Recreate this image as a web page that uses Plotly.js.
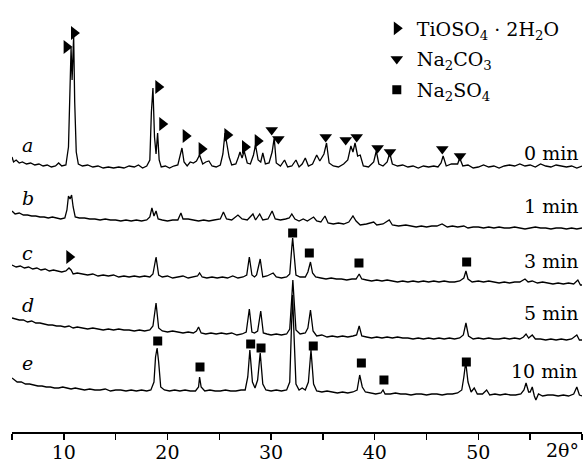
<!DOCTYPE html>
<html>
<head>
<meta charset="utf-8">
<script src="https://cdn.plot.ly/plotly-3.0.1.min.js"></script>
<style>html,body{margin:0;padding:0;background:#fff;}#chart{width:584px;height:462px;}</style>
</head>
<body>
<div id="chart"></div>
<script>
// XRD patterns (2θ in degrees, intensity with vertical stacking offset, arbitrary units)
const pattern_a = [[5,275],[5.15,270],[5.4,272],[5.7,269],[6,270],[6.4,268],[6.8,269],[7.2,267],[7.6,268],[8,266],[8.4,267],[8.8,265],[9.2,266],[9.5,269],[9.8,266],[10.2,267],[10.45,285],[10.6,350],[10.7,384],[10.8,352],[10.95,396],[11.05,330],[11.2,280],[11.4,268],[11.8,266],[12.3,267],[12.8,265],[13.3,266],[13.8,264],[14.3,265],[14.8,264],[15.3,265],[15.8,264],[16.3,266],[16.8,265],[17.2,267],[17.6,264],[18.0,266],[18.3,272],[18.45,320],[18.6,344],[18.75,295],[18.9,278],[19.05,299],[19.2,272],[19.4,265],[19.8,266],[20.2,264],[20.6,266],[21.0,267],[21.25,278],[21.4,284],[21.6,270],[21.9,266],[22.2,270],[22.5,269],[22.8,271],[23.1,277],[23.4,268],[23.7,270],[24.0,271],[24.3,266],[24.7,265],[25.1,267],[25.35,278],[25.55,299],[25.75,287],[25.95,275],[26.2,267],[26.6,268],[26.85,275],[27.0,280],[27.2,274],[27.4,281],[27.7,269],[28.0,268],[28.3,277],[28.5,287],[28.75,272],[29.0,270],[29.2,279],[29.45,268],[29.8,269],[30.1,280],[30.3,294],[30.5,269],[30.9,266],[31.3,272],[31.6,265],[32.0,266],[32.4,272],[32.7,265],[33.0,268],[33.3,274],[33.6,266],[34.0,268],[34.4,277],[34.7,271],[35.1,278],[35.35,289],[35.6,269],[36.0,266],[36.5,265],[37.0,268],[37.4,272],[37.7,286],[37.9,280],[38.1,289],[38.35,276],[38.6,277],[38.9,266],[39.4,265],[39.9,270],[40.15,281],[40.4,268],[40.8,266],[41.2,270],[41.45,279],[41.7,268],[42.2,266],[42.7,267],[43.2,265],[43.7,266],[44.2,264],[44.7,266],[45.2,265],[45.7,266],[46.1,265],[46.4,269],[46.6,276],[46.9,266],[47.4,268],[48.0,268],[48.2,274],[48.5,266],[49.0,267],[49.5,264],[50.0,265],[50.5,267],[51.0,265],[51.5,266],[52.0,264],[52.5,266],[53.0,267],[53.5,266],[54.0,268],[54.5,266],[55.0,267],[55.5,265],[56.0,268],[56.5,266],[57.0,265],[57.5,267],[58.0,266],[58.5,265],[59.0,266],[59.5,264],[60.0,266]];
const pattern_b = [[5,221],[5.3,218],[5.7,219],[6.1,217],[6.5,217],[6.9,216],[7.3,216],[7.7,215],[8.1,215],[8.5,214],[8.9,215],[9.3,214],[9.7,213],[10.1,214],[10.3,222],[10.45,236],[10.6,233],[10.75,237],[10.9,225],[11.1,215],[11.5,214],[12,214],[12.5,213],[13,213],[13.5,212],[14,213],[14.5,212],[15,212],[15.5,211],[16,212],[16.5,211],[17,212],[17.5,211],[18,212],[18.3,215],[18.5,224],[18.7,216],[18.9,221],[19.1,213],[19.5,212],[20,211],[20.5,212],[21.0,212],[21.3,219],[21.5,213],[22,213],[22.5,212],[23,211],[23.5,212],[24,211],[24.5,212],[25.1,213],[25.4,220],[25.7,213],[26.2,212],[26.8,217],[27.2,213],[27.7,212],[28.25,218],[28.5,212],[28.9,218],[29.2,212],[29.7,213],[30.1,221],[30.4,213],[30.9,212],[31.4,213],[31.75,214],[32.0,218],[32.3,213],[32.7,211],[33.1,213],[33.5,211],[34.1,215],[34.4,211],[34.8,210],[35.2,216],[35.5,209],[36,208],[36.5,209],[37.0,208],[37.5,210],[37.9,216],[38.2,211],[38.6,207],[39.2,208],[39.9,210],[40.2,207],[40.8,208],[41.4,212],[41.7,207],[42.3,206],[43,207],[43.5,206],[44,205],[44.5,206],[45,205],[45.5,206],[46,206],[46.5,208],[47,205],[47.5,206],[48,205],[48.6,206],[49,204],[49.5,205],[50,205],[50.5,204],[51,205],[51.5,204],[52,205],[52.5,204],[53,204],[53.5,205],[54,204],[54.5,203],[55,204],[55.5,205],[56,204],[56.5,204],[57,203],[57.5,204],[58,204],[58.5,203],[59,204],[59.5,203],[60,204]];
const pattern_c = [[5,167],[5.4,165],[5.8,166],[6.2,164],[6.6,165],[7,163],[7.4,164],[7.8,162],[8.2,163],[8.6,161],[9,162],[9.4,161],[9.8,160],[10.2,161],[10.5,164],[10.7,162],[10.9,158],[11.3,159],[11.8,158],[12.3,157],[12.8,158],[13.3,156],[13.8,157],[14.3,156],[14.8,157],[15.3,155],[15.8,156],[16.3,155],[16.8,156],[17.3,155],[17.8,156],[18.3,155],[18.6,158],[18.9,175],[19.15,157],[19.5,155],[20,156],[20.5,154],[21,155],[21.5,156],[22,154],[22.5,155],[22.9,156],[23.1,159],[23.35,155],[23.8,154],[24.3,155],[24.8,154],[25.3,155],[25.8,154],[26.3,156],[26.8,154],[27.3,155],[27.65,157],[27.9,175],[28.15,157],[28.4,155],[28.6,157],[28.95,173],[29.2,155],[29.6,156],[30.0,158],[30.2,159],[30.5,155],[31.0,154],[31.5,155],[31.8,158],[32.0,185],[32.08,194],[32.2,180],[32.4,157],[32.8,155],[33.3,155],[33.55,160],[33.8,170],[34.0,159],[34.3,155],[34.8,154],[35.3,153],[35.8,154],[36.3,153],[36.8,153],[37.3,152],[37.8,153],[38.2,153],[38.5,158],[38.75,153],[39.2,152],[39.7,151],[40.2,152],[40.7,151],[41.2,152],[41.7,151],[42.2,150],[42.7,151],[43.2,150],[43.7,151],[44.2,150],[44.7,151],[45.2,150],[45.7,151],[46.2,150],[46.7,151],[47.2,150],[47.7,150],[48.2,151],[48.6,154],[48.8,161],[49.0,153],[49.4,150],[50,151],[50.5,150],[51,151],[51.5,150],[52,149],[52.5,150],[53,149],[53.5,150],[54,150],[54.5,153],[54.8,150],[55.2,151],[55.7,149],[56.2,150],[56.7,149],[57.2,148],[57.7,149],[58.2,148],[58.7,149],[59.2,148],[59.6,152],[59.85,147],[60,147]];
const pattern_d = [[5,114],[5.3,113],[5.7,112],[6.1,112],[6.5,110],[6.9,111],[7.3,109],[7.7,109],[8.1,108],[8.5,107],[8.9,107],[9.3,106],[9.7,106],[10.1,105],[10.5,106],[10.9,104],[11.3,105],[11.8,104],[12.3,103],[12.8,104],[13.3,103],[13.8,102],[14.3,103],[14.8,102],[15.3,103],[15.8,102],[16.3,102],[16.8,101],[17.3,102],[17.8,101],[18.3,102],[18.6,106],[18.9,129],[19.15,104],[19.5,101],[20,100],[20.5,101],[21,100],[21.5,99],[22,100],[22.5,99],[22.8,101],[23.0,105],[23.25,99],[23.7,98],[24.2,99],[24.7,98],[25.2,99],[25.7,98],[26.2,99],[26.7,97],[27.2,98],[27.6,100],[27.9,123],[28.15,100],[28.4,99],[28.7,101],[29.0,121],[29.25,99],[29.6,98],[30.0,97],[30.5,98],[31.0,97],[31.5,98],[31.8,103],[32.0,135],[32.1,152],[32.2,135],[32.4,102],[32.8,98],[33.3,99],[33.55,104],[33.8,122],[34.05,101],[34.4,96],[34.9,97],[35.4,95],[35.9,96],[36.4,95],[36.9,96],[37.4,95],[37.9,96],[38.25,97],[38.5,106],[38.75,96],[39.2,95],[39.7,94],[40.2,95],[40.7,94],[41.2,95],[41.7,94],[42.2,95],[42.7,94],[43.2,94],[43.7,93],[44.2,94],[44.7,93],[45.2,94],[45.7,93],[46.2,94],[46.7,93],[47.2,94],[47.7,93],[48.2,94],[48.55,97],[48.8,109],[49.05,96],[49.5,93],[50,94],[50.5,93],[51,94],[51.5,93],[52,93],[52.5,94],[53,93],[53.5,94],[54,93],[54.35,95],[54.6,98],[54.85,94],[55.2,97],[55.5,93],[56,93],[56.5,92],[57,93],[57.5,92],[58,93],[58.5,92],[59,93],[59.5,97],[59.75,92],[60,92]];
const pattern_e = [[5,54],[5.2,52],[5.5,50],[5.9,50],[6.3,48],[6.7,48],[7.1,47],[7.5,46],[7.9,46],[8.3,45],[8.7,45],[9.1,44],[9.5,44],[9.9,45],[10.3,44],[10.7,43],[11.1,44],[11.5,43],[12,42],[12.5,43],[13,42],[13.5,42],[14,43],[14.5,41],[15,42],[15.5,42],[16,41],[16.5,42],[17,41],[17.5,42],[18,41],[18.4,42],[18.7,50],[18.85,75],[19.0,84],[19.15,70],[19.35,45],[19.7,42],[20.2,41],[20.7,42],[21.2,41],[21.7,42],[22.2,41],[22.7,41],[23.0,45],[23.1,55],[23.25,45],[23.6,41],[24.1,42],[24.6,41],[25.1,41],[25.6,42],[26.1,41],[26.6,41],[27.1,42],[27.5,42],[27.75,55],[27.95,82],[28.2,50],[28.45,44],[28.7,52],[28.95,79],[29.2,48],[29.5,42],[30,41],[30.5,42],[31,41],[31.5,42],[31.8,50],[31.95,100],[32.08,137],[32.2,100],[32.4,48],[32.7,42],[33.0,44],[33.3,42],[33.6,50],[33.85,82],[34.1,48],[34.4,41],[34.9,40],[35.4,41],[35.9,40],[36.4,39],[36.9,40],[37.4,39],[37.9,40],[38.3,42],[38.55,57],[38.8,45],[39.1,40],[39.6,39],[40.1,38],[40.6,39],[40.8,42],[41.0,38],[41.5,38],[42,39],[42.5,38],[43,38],[43.5,37],[44,38],[44.5,38],[45,37],[45.5,38],[46,38],[46.5,37],[47,38],[47.5,38],[48.0,39],[48.4,42],[48.6,55],[48.78,70],[49.0,50],[49.3,40],[49.6,44],[49.9,38],[50.4,38],[50.8,42],[51.1,37],[51.6,38],[52.1,37],[52.6,38],[53.1,37],[53.6,37],[54.1,38],[54.4,42],[54.6,49],[54.85,40],[55.0,40],[55.2,45],[55.4,36],[55.55,32],[55.8,38],[56.2,36],[56.7,37],[57.2,37],[57.7,36],[58.2,37],[58.7,36],[59.2,38],[59.5,45],[59.75,37],[60,36]];

// Sample labels and times
const sampleLetters = ["a", "b", "c", "d", "e"];
const sampleTimes = ["0 min", "1 min", "3 min", "5 min", "10 min"];
const labelLevels = [287, 234, 179, 127, 69];

// Phase markers
const tio_x = [10.27, 10.98, 19.12, 19.5, 21.76, 23.3, 25.78, 27.48, 28.71, 10.53];
const tio_y = [385, 399, 345, 308, 296, 283, 297, 285, 291, 175];
const naco_x = [30.06, 30.7, 35.27, 37.2, 38.26, 40.28, 41.47, 46.52, 48.23];
const naco_y = [302, 293, 295, 292, 295, 284, 280, 283, 276];
const naso_x = [32.08, 33.69, 38.48, 48.87, 19.06, 23.14, 28.03, 29.03, 34.07, 38.71, 40.89, 48.84];
const naso_y = [199, 179, 169, 170, 91, 65, 88, 84, 86, 69, 52, 70];
const phaseNames = ["TiOSO<sub>4</sub> · 2H<sub>2</sub>O", "Na<sub>2</sub>CO<sub>3</sub>", "Na<sub>2</sub>SO<sub>4</sub>"];

// x ticks
const tickValues = [5, 10, 15, 20, 25, 30, 35, 40, 45, 50, 55, 60];
const tickLabels = ["", "10", "", "20", "", "30", "", "40", "", "50", "", ""];

const FONT = "DejaVu Serif, Liberation Serif, serif";
const patterns = [pattern_a, pattern_b, pattern_c, pattern_d, pattern_e];

const traces = patterns.map(p => ({
  type: "scatter", mode: "lines",
  x: p.map(d => d[0]), y: p.map(d => d[1]),
  line: {color: "#000", width: 1.3},
  showlegend: false, hoverinfo: "skip"
}));
traces.push({type: "scatter", mode: "markers", x: tio_x, y: tio_y, name: phaseNames[0], legendgroup: "g1",
  marker: {symbol: "triangle-right", size: 12, color: "#000"}});
traces.push({type: "scatter", mode: "markers", x: naco_x, y: naco_y, name: phaseNames[1], legendgroup: "g2",
  marker: {symbol: "triangle-down", size: 11, color: "#000"}});
traces.push({type: "scatter", mode: "markers", x: naso_x, y: naso_y, name: phaseNames[2], legendgroup: "g3",
  marker: {symbol: "square", size: 9, color: "#000"}});

const annotations = [];
sampleLetters.forEach((s, i) => {
  annotations.push({x: 6.54, y: labelLevels[i], xref: "x", yref: "y", text: "<i>" + s + "</i>",
    showarrow: false, xanchor: "center", yanchor: "middle", font: {family: FONT, size: 19, color: "#000"}});
  annotations.push({x: 59.85, y: labelLevels[i] - 8, xref: "x", yref: "y", text: sampleTimes[i],
    showarrow: false, xanchor: "right", yanchor: "middle", font: {family: FONT, size: 19, color: "#000"}});
});
annotations.push({x: 1, y: -0.041, xref: "paper", yref: "paper", text: "2θ°", showarrow: false,
  xanchor: "right", yanchor: "middle", xshift: -1, font: {family: FONT, size: 19, color: "#000"}});

const layout = {
  width: 584, height: 462,
  margin: {l: 12, r: 2, t: 0, b: 30},
  paper_bgcolor: "#fff", plot_bgcolor: "#fff",
  showlegend: true,
  legend: {x: 0.64, y: 0.978, xanchor: "left", yanchor: "top", bgcolor: "rgba(0,0,0,0)",
    font: {family: FONT, size: 19, color: "#000"}, tracegroupgap: 3},
  xaxis: {range: [5, 60], tickvals: tickValues, ticktext: tickLabels, ticks: "outside", ticklen: 6,
    tickwidth: 1.5, tickcolor: "#000", showline: true, linecolor: "#000", linewidth: 2,
    ticklabelstandoff: -4,
    showgrid: false, zeroline: false, tickfont: {family: FONT, size: 19, color: "#000"}, fixedrange: true},
  yaxis: {range: [0, 432], visible: false, fixedrange: true},
  annotations: annotations
};

Plotly.newPlot("chart", traces, layout, {displayModeBar: false, staticPlot: true});
</script>
</body>
</html>
